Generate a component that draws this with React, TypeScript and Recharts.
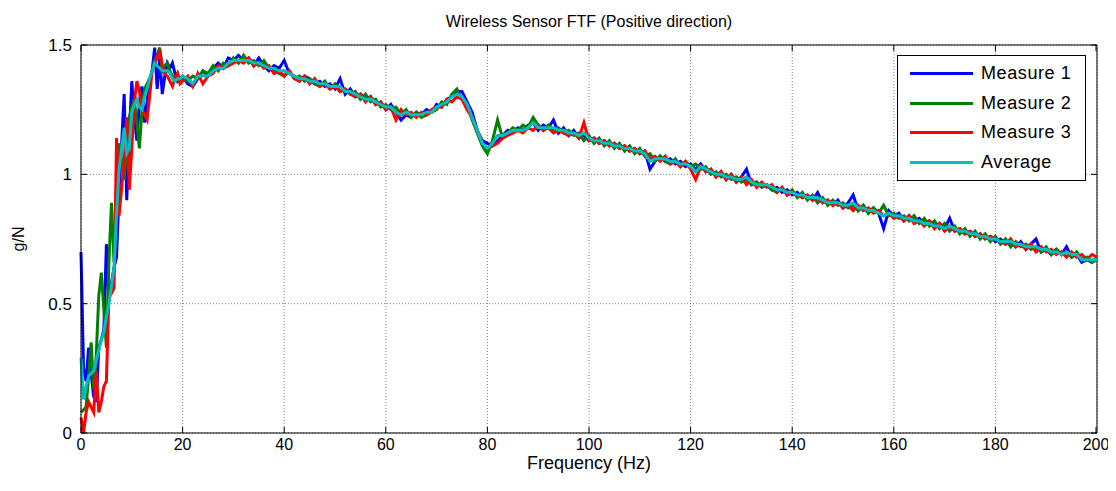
import { CartesianGrid, Line, LineChart, ReferenceLine, XAxis, YAxis } from "recharts";

// frequency grid (Hz): 0.5 Hz steps up to 20 Hz, then 1 Hz
const FREQ = [
  0, 0.5, 1, 1.5, 2, 2.5, 3, 3.5, 4, 4.5, 5, 5.5, 6, 6.5, 7, 7.5, 8, 8.5, 9, 9.5,
  10, 10.5, 11, 11.5, 12, 12.5, 13, 13.5, 14, 14.5, 15, 15.5, 16, 16.5, 17, 17.5, 18, 18.5, 19, 19.5,
  20, 21, 22, 23, 24, 25, 26, 27, 28, 29, 30, 31, 32, 33, 34, 35, 36, 37, 38, 39,
  40, 41, 42, 43, 44, 45, 46, 47, 48, 49, 50, 51, 52, 53, 54, 55, 56, 57, 58, 59,
  60, 61, 62, 63, 64, 65, 66, 67, 68, 69, 70, 71, 72, 73, 74, 75, 76, 77, 78, 79,
  80, 81, 82, 83, 84, 85, 86, 87, 88, 89, 90, 91, 92, 93, 94, 95, 96, 97, 98, 99,
  100, 101, 102, 103, 104, 105, 106, 107, 108, 109, 110, 111, 112, 113, 114, 115, 116, 117, 118, 119,
  120, 121, 122, 123, 124, 125, 126, 127, 128, 129, 130, 131, 132, 133, 134, 135, 136, 137, 138, 139,
  140, 141, 142, 143, 144, 145, 146, 147, 148, 149, 150, 151, 152, 153, 154, 155, 156, 157, 158, 159,
  160, 161, 162, 163, 164, 165, 166, 167, 168, 169, 170, 171, 172, 173, 174, 175, 176, 177, 178, 179,
  180, 181, 182, 183, 184, 185, 186, 187, 188, 189, 190, 191, 192, 193, 194, 195, 196, 197, 198, 199,
  200,
];

const MEASURE1 = [
  0.7, 0.25, 0.2, 0.33, 0.23, 0.14, 0.12, 0.33, 0.36, 0.4, 0.73, 0.51, 0.58, 0.64, 0.68, 0.94, 1.12, 1.31, 0.9, 1.15,
  1.36, 1.22, 1.13, 1.28, 1.34, 1.2, 1.28, 1.36, 1.4, 1.49, 1.33, 1.45, 1.31, 1.38, 1.43, 1.41, 1.43, 1.39, 1.36, 1.37,
  1.38, 1.35, 1.34, 1.37, 1.4, 1.38, 1.41, 1.43, 1.41, 1.45, 1.44, 1.46, 1.44, 1.45, 1.42, 1.45, 1.42, 1.4, 1.42, 1.41,
  1.44, 1.39, 1.38, 1.36, 1.38, 1.37, 1.35, 1.36, 1.34, 1.35, 1.33, 1.37, 1.31, 1.33, 1.3, 1.31, 1.29, 1.3, 1.27, 1.28,
  1.25, 1.27, 1.24, 1.21, 1.23, 1.22, 1.24, 1.23, 1.25, 1.24, 1.27, 1.26, 1.29, 1.3, 1.32, 1.32, 1.28, 1.24, 1.17, 1.13,
  1.12, 1.11, 1.13, 1.15, 1.17, 1.16, 1.18, 1.17, 1.19, 1.2, 1.17, 1.19, 1.18, 1.21, 1.16, 1.18, 1.15, 1.17, 1.14, 1.15,
  1.13, 1.14, 1.12, 1.13, 1.11, 1.12, 1.1, 1.11, 1.09, 1.1, 1.08, 1.09, 1.02, 1.05, 1.07, 1.05, 1.06, 1.04, 1.05, 1.03,
  1.04, 1.02, 1.04, 1.01, 1.02, 0.99, 1.01, 0.98, 1.0, 0.97, 0.99, 1.02, 0.96, 0.97, 0.95, 0.96, 0.94, 0.95, 0.93, 0.94,
  0.92, 0.93, 0.91, 0.92, 0.9, 0.93, 0.89, 0.9, 0.88, 0.9, 0.87, 0.89, 0.92, 0.86, 0.88, 0.85, 0.87, 0.85, 0.79, 0.86,
  0.84, 0.85, 0.82, 0.84, 0.82, 0.83, 0.81, 0.82, 0.8, 0.81, 0.79, 0.83, 0.78, 0.79, 0.77, 0.78, 0.76, 0.77, 0.75, 0.76,
  0.74, 0.75, 0.73, 0.74, 0.72, 0.74, 0.71, 0.73, 0.75, 0.7, 0.71, 0.69, 0.71, 0.69, 0.72, 0.68, 0.69, 0.66, 0.67, 0.66,
  0.67,
];

const MEASURE2 = [
  0.08, 0.09, 0.1, 0.22, 0.35, 0.17, 0.3, 0.53, 0.62, 0.48, 0.33, 0.66, 0.89, 0.66, 0.85, 1.12, 1.05, 0.98, 1.1, 1.22,
  1.26, 1.29, 1.2, 1.1, 1.25, 1.33, 1.35, 1.37, 1.4, 1.44, 1.46, 1.49, 1.4, 1.42, 1.43, 1.4, 1.38, 1.37, 1.39, 1.36,
  1.37, 1.36, 1.38, 1.37, 1.4, 1.39, 1.42, 1.4, 1.43, 1.42, 1.45, 1.43, 1.46, 1.43, 1.44, 1.42, 1.44, 1.41, 1.4, 1.39,
  1.38, 1.4, 1.37, 1.38, 1.36, 1.37, 1.35, 1.34, 1.36, 1.33, 1.35, 1.32, 1.33, 1.31, 1.32, 1.29, 1.31, 1.28, 1.29, 1.26,
  1.27, 1.25, 1.26, 1.23, 1.25, 1.22, 1.24, 1.22, 1.23, 1.24, 1.25, 1.28, 1.27, 1.31, 1.33, 1.29, 1.27, 1.21, 1.16, 1.11,
  1.08, 1.13, 1.21, 1.14, 1.16, 1.18, 1.17, 1.19, 1.18, 1.22, 1.19, 1.17, 1.19, 1.17, 1.18, 1.16, 1.17, 1.15, 1.16, 1.13,
  1.15, 1.12, 1.14, 1.11, 1.13, 1.1, 1.12, 1.09, 1.11, 1.08, 1.1, 1.07, 1.08, 1.05, 1.07, 1.05, 1.04, 1.06, 1.03, 1.05,
  1.03, 1.04, 1.02, 1.03, 1.0, 1.01, 0.99, 1.0, 0.98, 0.99, 0.97, 0.98, 0.96, 0.97, 0.95, 0.96, 0.94, 0.93, 0.95, 0.92,
  0.94, 0.91, 0.93, 0.9, 0.92, 0.89, 0.91, 0.88, 0.9, 0.88, 0.89, 0.87, 0.88, 0.86, 0.88, 0.85, 0.87, 0.85, 0.88, 0.84,
  0.85, 0.83, 0.84, 0.82, 0.84, 0.81, 0.83, 0.8, 0.82, 0.79, 0.81, 0.78, 0.8, 0.77, 0.79, 0.76, 0.78, 0.75, 0.77, 0.74,
  0.76, 0.73, 0.75, 0.72, 0.74, 0.72, 0.73, 0.71, 0.72, 0.7, 0.72, 0.69, 0.71, 0.69, 0.7, 0.68, 0.7, 0.67, 0.68, 0.66,
  0.68,
];

const MEASURE3 = [
  0.06, 0.0, 0.08, 0.12, 0.1, 0.08, 0.24, 0.08, 0.12, 0.18, 0.2, 0.53, 0.54, 0.56, 1.14, 0.84, 0.95, 1.05, 1.22, 0.94,
  1.1, 1.28, 1.36, 1.32, 1.25, 1.23, 1.21, 1.3, 1.4, 1.43, 1.45, 1.48, 1.42, 1.39, 1.38, 1.36, 1.34, 1.37, 1.39, 1.35,
  1.36, 1.38, 1.34, 1.39, 1.35, 1.38, 1.39, 1.42, 1.41, 1.42, 1.43, 1.44, 1.43, 1.45, 1.42, 1.43, 1.41, 1.42, 1.39, 1.4,
  1.38, 1.4, 1.37, 1.36, 1.38, 1.35, 1.37, 1.34, 1.35, 1.33, 1.34, 1.32, 1.33, 1.31, 1.3, 1.31, 1.28, 1.3, 1.27, 1.28,
  1.25, 1.26, 1.21, 1.25, 1.23, 1.24, 1.22, 1.24, 1.23, 1.25, 1.26, 1.26, 1.29, 1.28, 1.3, 1.29, 1.25, 1.22, 1.17, 1.12,
  1.1, 1.11, 1.12, 1.14, 1.15, 1.16, 1.17, 1.16, 1.18, 1.17, 1.19, 1.17, 1.18, 1.16, 1.17, 1.16, 1.15, 1.16, 1.14, 1.2,
  1.13, 1.14, 1.12, 1.13, 1.11, 1.12, 1.1, 1.11, 1.09, 1.1, 1.08, 1.09, 1.06, 1.07, 1.05, 1.07, 1.04, 1.05, 1.03, 1.05,
  1.02, 0.98, 1.03, 1.01, 1.02, 0.99, 1.01, 0.98, 1.0, 0.97, 0.99, 0.96, 0.98, 0.95, 0.97, 0.95, 0.96, 0.93, 0.95, 0.92,
  0.93, 0.92, 0.91, 0.92, 0.9, 0.91, 0.89, 0.9, 0.88, 0.89, 0.87, 0.88, 0.86, 0.88, 0.86, 0.87, 0.85, 0.86, 0.84, 0.85,
  0.83, 0.84, 0.82, 0.84, 0.81, 0.82, 0.8, 0.82, 0.79, 0.81, 0.78, 0.8, 0.78, 0.79, 0.77, 0.78, 0.76, 0.77, 0.75, 0.76,
  0.75, 0.74, 0.73, 0.75, 0.72, 0.73, 0.71, 0.73, 0.7, 0.72, 0.7, 0.71, 0.69, 0.7, 0.68, 0.7, 0.68, 0.69, 0.67, 0.69,
  0.68,
];

const AVERAGE = [
  0.29, 0.13, 0.18, 0.22, 0.23, 0.24, 0.28, 0.32, 0.36, 0.39, 0.45, 0.5, 0.57, 0.64, 0.85, 1.02, 1.1, 1.18, 1.08, 1.1,
  1.24, 1.27, 1.29, 1.26, 1.25, 1.3, 1.33, 1.37, 1.4, 1.43, 1.42, 1.41, 1.4, 1.4, 1.4, 1.39, 1.37, 1.36, 1.37, 1.37,
  1.38, 1.37, 1.35, 1.38, 1.38, 1.38, 1.4, 1.41, 1.41, 1.43, 1.44, 1.44, 1.44, 1.44, 1.43, 1.43, 1.42, 1.41, 1.41, 1.4,
  1.4, 1.39, 1.38, 1.37, 1.37, 1.36, 1.36, 1.35, 1.35, 1.34, 1.34, 1.34, 1.32, 1.32, 1.31, 1.3, 1.29, 1.29, 1.28, 1.27,
  1.26, 1.26, 1.24, 1.23, 1.24, 1.23, 1.23, 1.23, 1.24, 1.24, 1.26, 1.27, 1.28, 1.3, 1.31, 1.3, 1.27, 1.22, 1.17, 1.12,
  1.1, 1.12, 1.15, 1.15, 1.16, 1.17, 1.17, 1.17, 1.18, 1.2, 1.18, 1.18, 1.18, 1.18, 1.17, 1.17, 1.16, 1.16, 1.15, 1.16,
  1.14, 1.13, 1.13, 1.12, 1.12, 1.11, 1.11, 1.1, 1.1, 1.09, 1.09, 1.08, 1.05, 1.06, 1.06, 1.06, 1.05, 1.05, 1.04, 1.04,
  1.03, 1.01, 1.03, 1.02, 1.01, 1.0, 1.0, 0.99, 0.99, 0.98, 0.98, 0.99, 0.97, 0.96, 0.96, 0.96, 0.95, 0.94, 0.94, 0.93,
  0.93, 0.92, 0.92, 0.91, 0.91, 0.91, 0.9, 0.89, 0.89, 0.89, 0.88, 0.88, 0.89, 0.87, 0.87, 0.86, 0.86, 0.85, 0.84, 0.85,
  0.84, 0.84, 0.83, 0.83, 0.82, 0.82, 0.81, 0.81, 0.8, 0.8, 0.79, 0.8, 0.79, 0.78, 0.78, 0.77, 0.77, 0.76, 0.76, 0.75,
  0.75, 0.74, 0.74, 0.74, 0.73, 0.73, 0.72, 0.72, 0.72, 0.71, 0.71, 0.7, 0.7, 0.69, 0.7, 0.69, 0.69, 0.67, 0.67, 0.67,
  0.67,
];

const X_TICKS = [0, 20, 40, 60, 80, 100, 120, 140, 160, 180, 200];
const Y_TICKS = [0, 0.5, 1, 1.5];

const SERIES = [
  { key: "m1", name: "Measure 1", color: "#0000ff" },
  { key: "m2", name: "Measure 2", color: "#008000" },
  { key: "m3", name: "Measure 3", color: "#ff0000" },
  { key: "avg", name: "Average", color: "#00bfbf" },
];

const data = FREQ.map((f, i) => ({
  f,
  m1: MEASURE1[i],
  m2: MEASURE2[i],
  m3: MEASURE3[i],
  avg: AVERAGE[i],
}));

const FONT = "'Liberation Sans', Arial, Helvetica, sans-serif";
const PLOT_W = 1016;
const PLOT_H = 388;

function XTick(props: any) {
  const { x, y, payload } = props;
  return (
    <g>
      <line x1={x} x2={x} y1={y} y2={y - 6} stroke="#000" />
      <line x1={x} x2={x} y1={y - PLOT_H} y2={y - PLOT_H + 6} stroke="#000" />
      <text x={x} y={y + 17} textAnchor="middle" fontSize={16} fontFamily={FONT} fill="#000">
        {payload.value}
      </text>
    </g>
  );
}

function YTick(props: any) {
  const { x, y, payload } = props;
  return (
    <g>
      <line x1={x} x2={x + 6} y1={y} y2={y} stroke="#000" />
      <line x1={x + PLOT_W} x2={x + PLOT_W - 6} y1={y} y2={y} stroke="#000" />
      <text x={x - 9} y={y + 6} textAnchor="end" fontSize={17} fontFamily={FONT} fill="#000">
        {payload.value}
      </text>
    </g>
  );
}

function LegendBox() {
  return (
    <div
      style={{
        position: "absolute",
        top: 47,
        left: 889,
        border: "1px solid #000",
        background: "#fff",
        width: 189,
        height: 126,
        boxSizing: "border-box",
        padding: "3px 0 0 12px",
        fontFamily: FONT,
        fontSize: 18,
        letterSpacing: 0.6,
        color: "#000",
      }}
    >
      {SERIES.map((s) => (
        <div key={s.key} style={{ display: "flex", alignItems: "center", height: 29.5 }}>
          <span style={{ display: "inline-block", width: 63, height: 3, background: s.color, marginRight: 8 }} />
          <span>{s.name}</span>
        </div>
      ))}
    </div>
  );
}

export default function App() {
  return (
    <div style={{ position: "relative", width: 1100, height: 475, background: "#fff" }}>
      <div
        style={{
          position: "absolute",
          top: 5,
          left: 73,
          width: PLOT_W,
          textAlign: "center",
          fontFamily: FONT,
          fontSize: 16,
          color: "#000",
        }}
      >
        Wireless Sensor FTF (Positive direction)
      </div>
      <LineChart width={1100} height={475} data={data} margin={{ top: 37, right: 11, left: 0, bottom: 0 }}>
        <CartesianGrid stroke="#808080" strokeDasharray="1 2" />
        <XAxis
          dataKey="f"
          type="number"
          domain={[0, 200]}
          ticks={X_TICKS}
          height={50}
          tickSize={0}
          tickMargin={0}
          tickLine={false}
          axisLine={{ stroke: "#000" }}
          tick={<XTick />}
          label={{
            content: (p: any) => (
              <text
                x={p.viewBox.x + p.viewBox.width / 2}
                y={p.viewBox.y + 36}
                textAnchor="middle"
                fontSize={18}
                fontFamily={FONT}
                fill="#000"
              >
                Frequency (Hz)
              </text>
            ),
          }}
        />
        <YAxis
          type="number"
          domain={[0, 1.5]}
          ticks={Y_TICKS}
          width={73}
          tickSize={0}
          tickMargin={0}
          tickLine={false}
          axisLine={{ stroke: "#000" }}
          tick={<YTick />}
          label={{
            content: (p: any) => {
              const cx = p.viewBox.x + 16;
              const cy = p.viewBox.y + p.viewBox.height / 2;
              return (
                <text
                  x={cx}
                  y={cy}
                  transform={`rotate(-90 ${cx} ${cy})`}
                  textAnchor="middle"
                  fontSize={16}
                  fontFamily={FONT}
                  fill="#000"
                >
                  g/N
                </text>
              );
            },
          }}
        />
        <ReferenceLine y={1.5} stroke="#000" />
        <ReferenceLine x={200} stroke="#000" />
        {SERIES.map((s) => (
          <Line
            key={s.key}
            dataKey={s.key}
            name={s.name}
            type="linear"
            stroke={s.color}
            strokeWidth={3}
            dot={false}
            activeDot={false}
            isAnimationActive={false}
          />
        ))}
      </LineChart>
      <LegendBox />
    </div>
  );
}
